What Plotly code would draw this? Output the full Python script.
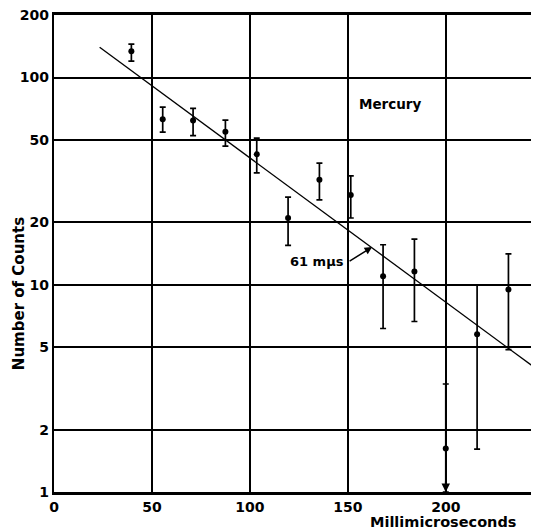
import numpy as np
import plotly.graph_objects as go

# ---- data ----
time_ns = [39.5, 55.5, 71, 87.5, 103.5, 119.5, 135.5, 151.5, 168, 184, 200, 216, 232, 248]
counts = [134, 63, 62, 54.7, 42.6, 21, 32.1, 27.1, 11.0, 11.6, 1.62, 5.77, 9.5, 2.4]
err_upper = [145, 72, 71, 62.3, 51, 26.5, 38.6, 33.5, 15.6, 16.6, 3.32, 10.0, 14.1, 5.5]
err_lower = [120, 54.5, 52.5, 46.7, 34.7, 15.5, 25.7, 21, 6.15, 6.65, 1.0, 1.61, 4.87, 1.11]

fit_x = [23.3, 248]
fit_y = [140, 3.82]

x_ticks = [0, 50, 100, 150, 200]
y_ticks = [1, 2, 5, 10, 20, 50, 100, 200]
y_tick_labels = ["1", "2", "5", "10", "20", "50", "100", "200"]

FONT = "DejaVu Sans"

plus = [u - c for u, c in zip(err_upper, counts)]
minus = [c - l for l, c in zip(err_lower, counts)]

fig = go.Figure()
fig.add_trace(go.Scatter(
    x=fit_x, y=fit_y, mode="lines",
    line=dict(color="black", width=1.3), showlegend=False, hoverinfo="skip"))
fig.add_trace(go.Scatter(
    x=time_ns, y=counts, mode="markers",
    marker=dict(color="black", size=6),
    error_y=dict(type="data", array=plus, arrayminus=minus, symmetric=False,
                 color="black", thickness=1.7, width=3),
    showlegend=False))

# downward arrow on the 200 point's lower bar
fig.add_annotation(x=time_ns[10], y=np.log10(err_lower[10]), xref="x", yref="y",
                   ax=0, ay=-12, text="", showarrow=True, arrowhead=2,
                   arrowsize=1, arrowwidth=1.7, arrowcolor="black", standoff=0)

# Mercury label
fig.add_annotation(x=171.6, y=np.log10(74.5), xref="x", yref="y", text="Mercury",
                   showarrow=False, font=dict(family=FONT, size=13.5, color="black", weight="bold"))

# 61 mμs label + arrow
fig.add_annotation(x=134.5, y=np.log10(12.9), xref="x", yref="y", text="61 mμs",
                   showarrow=False, font=dict(family=FONT, size=13, color="black", weight="bold"))
fig.add_annotation(x=162.4, y=1.182, xref="x", yref="y", ax=-24, ay=15, text="",
                   showarrow=True, arrowhead=2, arrowsize=1, arrowwidth=1.5,
                   arrowcolor="black", standoff=0)

# axis titles
fig.add_annotation(x=-0.072, y=0.415, xref="paper", yref="paper", text="Number of Counts",
                   textangle=-90, showarrow=False, xanchor="center", yanchor="middle",
                   font=dict(family=FONT, size=15, color="black", weight="bold"))
fig.add_annotation(x=0.802, y=-0.062, xref="paper", yref="paper", text="Millimicroseconds",
                   showarrow=False, xanchor="center", yanchor="middle",
                   font=dict(family=FONT, size=14.5, color="black", weight="bold"))

fig.update_xaxes(range=[0, 247.6], tickvals=x_ticks, showgrid=True, gridcolor="black",
                 gridwidth=1.6, showline=True, linecolor="black", linewidth=2.8,
                 mirror=True, ticks="", zeroline=False, ticklabeloverflow="allow",
                 tickfont=dict(family=FONT, size=14, color="black", weight="bold"))
fig.update_yaxes(type="log", range=[0, np.log10(200) + 0.0008], tickvals=y_ticks,
                 ticktext=y_tick_labels, showgrid=True, gridcolor="black",
                 gridwidth=1.6, showline=True, linecolor="black", linewidth=2.2,
                 ticks="", zeroline=False, ticklabeloverflow="allow",
                 tickfont=dict(family=FONT, size=14, color="black", weight="bold"))

# page body has an 8px margin, so the figure is 8px smaller and shifted
fig.update_layout(width=531, height=521, margin=dict(l=46, r=0, t=7, b=37),
                  plot_bgcolor="white", paper_bgcolor="white")

fig.write_html("out.html")
